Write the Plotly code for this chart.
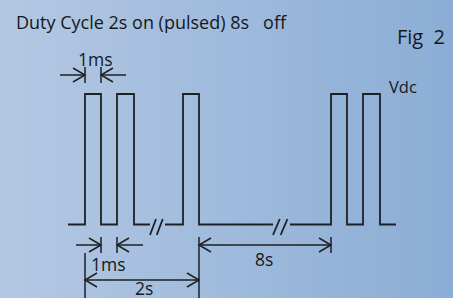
import plotly.graph_objects as go

# ---- diagram data (pixel-like diagram units, y grows downward) ----
baseline_y = 224.5
pulse_top_y = 94
wave_start_x = 68
wave_end_x = 396
# pulse rising / falling edges
pulse_rise = [85, 117, 183, 331, 363]
pulse_fall = [101, 134, 199, 347, 380]
# breaks in the baseline ("//")
break_left = [150, 273]
break_right = [165, 290]
slash_low_y = 235
slash_high_y = 219

# dimension arrows: (x_from, x_to, y, head_at_from, head_at_to)
dim_arrows = [
    (60, 85, 75, False, True),     # top 1ms left
    (126, 101, 75, False, True),   # top 1ms right
    (76, 101, 245, False, True),   # bottom 1ms left
    (143, 117, 245, False, True),  # bottom 1ms right
    (199, 331, 245, True, True),   # 8s
    (85, 199, 280, True, True),    # 2s
]
# vertical ticks / extension lines: (x, y_top, y_bottom)
ticks = [
    (85, 67, 83), (101, 67, 83),
    (101, 237, 253), (117, 237, 253),
    (331, 237, 253),
    (85, 253, 298), (199, 237, 298),
]

labels = ["Duty Cycle 2s on (pulsed) 8s   off", "Fig  2", "Vdc", "1ms", "1ms", "8s", "2s"]
label_x = [14, 421, 403, 95, 108, 264, 144]
label_y = [22, 36, 86, 59, 264, 259, 288]
label_size = [18, 20, 16.5, 17.5, 17.5, 17.5, 17.5]
label_anchor = ["left", "center", "center", "center", "center", "center", "center"]

bg_left = "#b4c8e3"
bg_right = "#8badd5"
ink = "#1d2125"

W, H = 453, 298

fig = go.Figure()

# background gradient
fig.add_trace(go.Heatmap(
    z=[[0, 1], [0, 1]], x=[0, W], y=[0, H], zsmooth="best",
    colorscale=[[0, bg_left], [1, bg_right]], showscale=False, hoverinfo="skip"))

# waveform
wx, wy = [wave_start_x], [baseline_y]
cur = wave_start_x
bi = 0
for r, f in zip(pulse_rise, pulse_fall):
    if bi < len(break_left) and cur < break_left[bi] < r:
        wx += [break_left[bi], None, break_right[bi]]
        wy += [baseline_y, None, baseline_y]
        bi += 1
    wx += [r, r, f, f]
    wy += [baseline_y, pulse_top_y, pulse_top_y, baseline_y]
    cur = f
wx.append(wave_end_x)
wy.append(baseline_y)
fig.add_trace(go.Scatter(x=wx, y=wy, mode="lines", line=dict(color=ink, width=1.8),
                         hoverinfo="skip", showlegend=False))

# slashes
sx, sy = [], []
for bl, br in zip(break_left, break_right):
    w = (br - bl)
    sx += [bl, bl + w * 0.4, None, bl + w * 0.45, bl + w * 0.85, None]
    sy += [slash_low_y, slash_high_y, None, slash_low_y, slash_high_y, None]
fig.add_trace(go.Scatter(x=sx, y=sy, mode="lines", line=dict(color=ink, width=1.8),
                         hoverinfo="skip", showlegend=False))

# dimension arrows
ax, ay = [], []
hl, hw = 12, 7
for x0, x1, y, h0, h1 in dim_arrows:
    ax += [x0, x1, None]
    ay += [y, y, None]
    d = 1 if x1 > x0 else -1
    if h1:
        ax += [x1 - d * hl, x1, x1 - d * hl, None]
        ay += [y - hw, y, y + hw, None]
    if h0:
        ax += [x0 + d * hl, x0, x0 + d * hl, None]
        ay += [y - hw, y, y + hw, None]
for x, y0, y1 in ticks:
    ax += [x, x, None]
    ay += [y0, y1, None]
fig.add_trace(go.Scatter(x=ax, y=ay, mode="lines", line=dict(color=ink, width=1.5),
                         hoverinfo="skip", showlegend=False))

for t, x, y, s, a in zip(labels, label_x, label_y, label_size, label_anchor):
    fig.add_annotation(x=x, y=y, text=t, showarrow=False, xanchor=a, yanchor="middle",
                       font=dict(family="Open Sans", size=s, color="#15181b"))

fig.update_xaxes(range=[0, W], visible=False, fixedrange=True)
fig.update_yaxes(range=[H, 0], visible=False, fixedrange=True)
fig.update_layout(width=W, height=H, margin=dict(l=0, r=0, t=0, b=0),
                  paper_bgcolor=bg_left, plot_bgcolor=bg_left, showlegend=False)

fig.write_html("out.html", config={"displayModeBar": False},
               post_script="document.body.style.margin='0';document.body.style.overflow='hidden';")
